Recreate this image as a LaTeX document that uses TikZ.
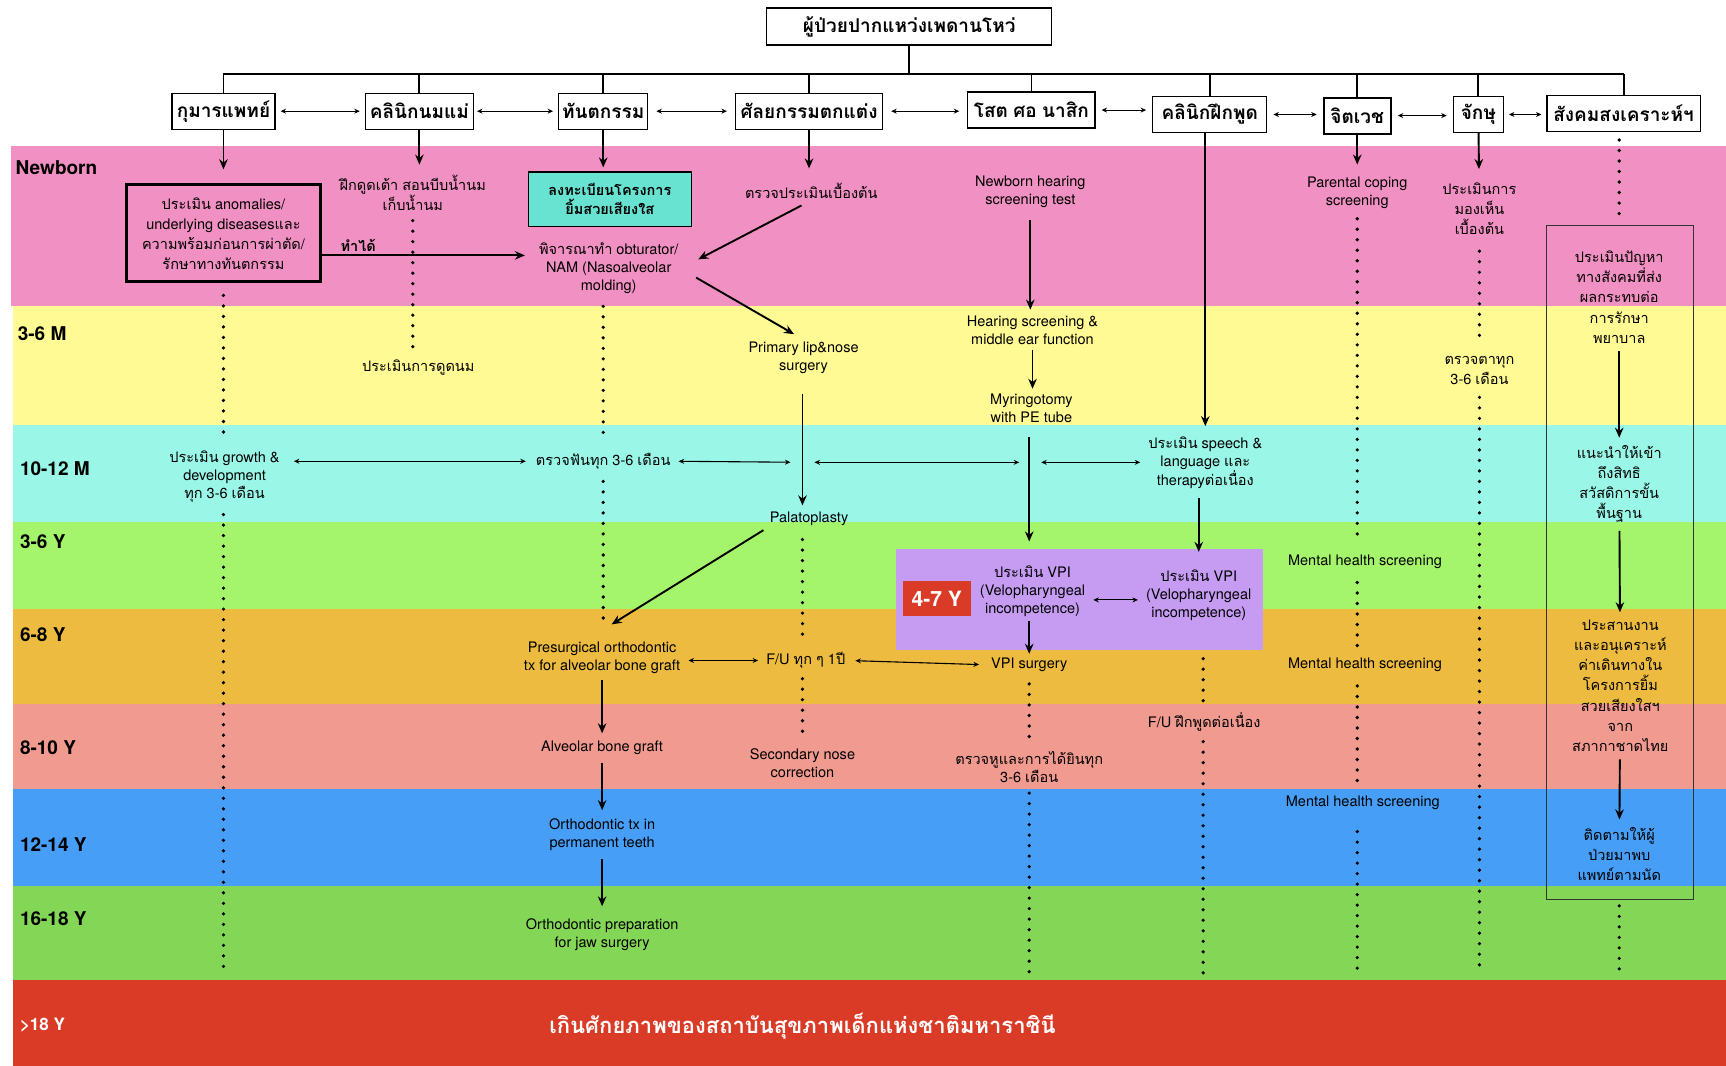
\documentclass[tikz,border=0pt]{standalone}
\usepackage{fontspec}
\setmainfont{TeX Gyre Heros}
\newfontfamily\thaifont[Script=Thai]{Loma}
\usetikzlibrary{arrows.meta}

% Thai letters in Loma, everything else in Heros
\XeTeXinterchartokenstate=1
\newXeTeXintercharclass\thaiclass
\newcount\thaichar
\thaichar="0E00
\loop
  \XeTeXcharclass\thaichar=\thaiclass
  \advance\thaichar by 1
\ifnum\thaichar<"0E80 \repeat
\XeTeXinterchartoks 0 \thaiclass = {\thaifont}
\XeTeXinterchartoks 4095 \thaiclass = {\thaifont}
\XeTeXinterchartoks \thaiclass 0 = {\rmfamily}
\XeTeXinterchartoks \thaiclass 4095 = {\rmfamily}

\definecolor{pinkband}{HTML}{F190C2}
\definecolor{yellowband}{HTML}{FFFA93}
\definecolor{cyanband}{HTML}{9AF7E8}
\definecolor{limeband}{HTML}{A4F56C}
\definecolor{orangeband}{HTML}{EEBB41}
\definecolor{salmonband}{HTML}{F19A8F}
\definecolor{blueband}{HTML}{479EF6}
\definecolor{greenband}{HTML}{84D657}
\definecolor{redband}{HTML}{DA3B26}
\definecolor{tealbox}{HTML}{68E2D1}
\definecolor{vpipurple}{HTML}{C69CF3}

\newcommand\txtsize{\fontsize{14.5}{18}\selectfont}
\newcommand\thsize{\fontsize{14.5}{20}\selectfont}
\newcommand\deptsize{\fontsize{19}{22}\selectfont\bfseries}
\newcommand\bandsize{\fontsize{19}{22}\selectfont\bfseries}

\tikzset{
    dept/.style={draw, line width=1.2pt, fill=white, font=\deptsize, minimum height=36pt, inner sep=2pt},
    txt/.style={align=center, font=\txtsize, inner sep=2pt},
    thtxt/.style={align=center, font=\thsize, inner sep=2pt},
    bandlbl/.style={anchor=west, font=\bandsize, inner sep=0pt},
    arr/.style={line width=1.9pt, -{Stealth[length=10pt,width=8.5pt]}},
    biarr/.style={line width=1.1pt, {Stealth[length=5.5pt,width=5pt]}-{Stealth[length=5.5pt,width=5pt]}},
    dots/.style={line width=3.6pt, line cap=round, dash pattern=on 0pt off 10.5pt},
    busline/.style={line width=1.8pt}
}

\begin{document}
\begin{tikzpicture}[x=1.1pt, y=-1.1pt]
    \useasboundingbox (0,0) rectangle (1568,968);

    % age bands
    \fill[pinkband] (10,133) rectangle (1568,278);
    \fill[yellowband] (12,278) rectangle (1568,386);
    \fill[cyanband] (12,386) rectangle (1568,474);
    \fill[limeband] (12,474) rectangle (1568,553);
    \fill[orangeband] (12,553) rectangle (1568,640);
    \fill[salmonband] (12,640) rectangle (1568,717);
    \fill[blueband] (12,717) rectangle (1568,805);
    \fill[greenband] (12,805) rectangle (1568,890);
    \fill[redband] (12,890) rectangle (1568,968);

    \node[bandlbl] (lnewborn) at (14,152) {Newborn};
    \node[bandlbl] (l36m) at (16,303) {3-6 M};
    \node[bandlbl] (l1012m) at (18,426) {10-12 M};
    \node[bandlbl] (l36y) at (18,492) {3-6 Y};
    \node[bandlbl] (l68y) at (18,577) {6-8 Y};
    \node[bandlbl] (l810y) at (18,679) {8-10 Y};
    \node[bandlbl] (l1214y) at (18,767) {12-14 Y};
    \node[bandlbl] (l1618y) at (18,835) {16-18 Y};
    \node[bandlbl, text=white, font=\fontsize{17}{20}\selectfont\bfseries] (l18y) at (18,931) {>18 Y};

    % patient and departments
    \node[dept, minimum width=285pt, minimum height=37pt] (patient) at (826,24) {ผู้ป่วยปากแหว่งเพดานโหว่};
    \coordinate (bus) at (826,67);

    \node[dept, minimum width=103pt] (kumarn) at (203,101) {กุมารแพทย์};
    \node[dept, minimum width=108pt] (nommae) at (381,101) {คลินิกนมแม่};
    \node[dept, minimum width=89pt] (dental) at (548,101) {ทันตกรรม};
    \node[dept, minimum width=147pt] (plastic) at (735,101) {ศัลยกรรมตกแต่ง};
    \node[dept, minimum width=127pt] (ent) at (937,100) {โสต ศอ นาสิก};
    \node[dept, minimum width=114pt] (speech) at (1099,104) {คลินิกฝึกพูด};
    \node[dept, minimum width=67pt, line width=2pt] (psych) at (1233,105) {จิตเวช};
    \node[dept, minimum width=50pt] (eye) at (1343,104) {จักษุ};
    \node[dept, minimum width=153pt] (social) at (1475,103) {สังคมสงเคราะห์ฯ};

    \draw[busline] (patient) -- (bus);
    \draw[busline] (kumarn.north |- bus) -- (social.north |- bus);
    \draw[busline] (kumarn.north) -- (kumarn.north |- bus);
    \draw[busline] (nommae.north) -- (nommae.north |- bus);
    \draw[busline] (dental.north) -- (dental.north |- bus);
    \draw[busline] (plastic.north) -- (plastic.north |- bus);
    \draw[busline] (ent.north) -- (ent.north |- bus);
    \draw[busline] (speech.north) -- (speech.north |- bus);
    \draw[busline] (psych.north) -- (psych.north |- bus);
    \draw[busline] (eye.north) -- (eye.north |- bus);
    \draw[busline] (social.north) -- (social.north |- bus);

    \draw[biarr, shorten <=5pt, shorten >=5pt] (kumarn.east) -- (kumarn.east -| nommae.west);
    \draw[biarr, shorten <=3pt, shorten >=5pt] (nommae.east) -- (nommae.east -| dental.west);
    \draw[biarr, shorten <=8pt, shorten >=8pt] (dental.east) -- (dental.east -| plastic.west);
    \draw[biarr, shorten <=8pt, shorten >=8pt] (plastic.east) -- (plastic.east -| ent.west);
    \draw[biarr, shorten <=6pt, shorten >=6pt] (ent.east) -- (ent.east -| speech.west);
    \draw[biarr, shorten <=6pt, shorten >=6pt] (speech.east) -- (speech.east -| psych.west);
    \draw[biarr, shorten <=6pt, shorten >=6pt] (psych.east) -- (psych.east -| eye.west);
    \draw[biarr, shorten <=5pt, shorten >=5pt] (eye.east) -- (eye.east -| social.west);

    % paediatrics
    \node[thtxt, draw, line width=3pt, minimum width=193pt, minimum height=97pt] (anom) at (203,212)
        {ประเมิน anomalies/\\underlying diseasesและ\\ความพร้อมก่อนการผ่าตัด/\\รักษาทางทันตกรรม};
    \node[txt] (growth) at (204,433) {ประเมิน growth \&\\development\\ทุก 3-6 เดือน};
    \coordinate (kumend) at (203,880);
    \draw[arr, shorten >=14pt] (kumarn) -- (anom);
    \draw[dots, shorten <=12pt, shorten >=8pt] (anom.south) -- (anom.south |- growth.north);
    \draw[dots, shorten <=10pt] (anom.south |- growth.south) -- (kumend);

    % breastfeeding clinic
    \node[txt] (suckle) at (375,175) {ฝึกดูดเต้า สอนบีบน้ำนม\\เก็บน้ำนม};
    \node[txt] (suckeval) at (380,334) {ประเมินการดูดนม};
    \draw[arr, shorten >=8pt] (nommae.south) -- (nommae.south |- suckle.north);
    \draw[dots, shorten <=8pt, shorten >=8pt] (suckle.south) -- (suckle.south |- suckeval.north);

    % dentistry
    \node[draw, line width=1.5pt, fill=tealbox, align=center, font=\fontsize{14.5}{19}\selectfont\bfseries,
        minimum width=163pt, minimum height=54pt] (register) at (554,181) {ลงทะเบียนโครงการ\\ยิ้มสวยเสียงใส};
    \node[txt] (nam) at (553,244) {พิจารณาทำ obturator/\\NAM (Nasoalveolar\\molding)};
    \node[txt] (dentcheck) at (548,419) {ตรวจฟันทุก 3-6 เดือน};
    \draw[arr, shorten >=4pt] (dental.south) -- (dental.south |- register.north);
    \draw[arr, shorten >=12pt] (anom.east |- 0,232) -- node[above, pos=0.17, font=\fontsize{14.5}{18}\selectfont\bfseries] (cando) {ทำได้} (nam.west |- 0,232);
    \draw[dots, shorten <=10pt, shorten >=10pt] (dentcheck.north |- nam.south) -- (dentcheck.north);
    \draw[biarr, shorten <=12pt, shorten >=8pt] (growth.east |- dentcheck) -- (dentcheck.west);

    % plastic surgery
    \node[txt] (exam) at (737,173) {ตรวจประเมินเบื้องต้น};
    \node[txt] (primary) at (730,325) {Primary lip\&nose\\surgery};
    \node[txt] (palato) at (735,471) {Palatoplasty};
    \coordinate (palline) at (729,420);
    \draw[arr, shorten >=12pt] (plastic.south) -- (plastic.south |- exam.north);
    \draw[arr, shorten <=11pt, shorten >=20pt] (exam.south) -- (nam.east);
    \draw[arr, shorten <=18pt, shorten >=11pt] (nam.east) -- (primary.north);
    \draw[arr, shorten <=18pt, shorten >=4pt] (palline |- primary.south) -- (palline |- palato.north);
    \draw[biarr, shorten <=6pt, shorten >=12pt] (dentcheck.east) -- (palline);

    % ENT
    \node[txt] (nbhear) at (936,174) {Newborn hearing\\screening test};
    \node[txt] (hearscr) at (938,300) {Hearing screening \&\\middle ear function};
    \node[txt] (myring) at (937,371) {Myringotomy\\with PE tube};
    \coordinate (entline) at (935,420);
    \draw[arr, shorten <=10pt, shorten >=4pt] (nbhear.south) -- (nbhear.south |- hearscr.north);
    \draw[arr, shorten <=3pt, shorten >=3pt] (hearscr.south) -- (hearscr.south |- myring.north);
    \draw[biarr, shorten <=12pt, shorten >=10pt] (palline) -- (entline);

    % speech clinic
    \node[txt] (speecheval) at (1095,420) {ประเมิน speech \&\\language และ\\therapyต่อเนื่อง};
    \draw[arr, shorten >=8pt] (speecheval.north |- speech.south) -- (speecheval.north);
    \draw[biarr, shorten <=12pt, shorten >=6pt] (entline) -- (speecheval.west);

    % VPI block
    \node[fill=vpipurple, minimum width=367pt, minimum height=101pt] (vpibox) at (981,545) {};
    \node[fill=redband, text=white, font=\fontsize{21}{24}\selectfont\bfseries,
        minimum width=68pt, minimum height=35pt] (age47) at (851,544) {4-7 Y};
    \node[txt] (vpil) at (938,537) {ประเมิน VPI\\(Velopharyngeal\\incompetence)};
    \node[txt] (vpir) at (1089,541) {ประเมิน VPI\\(Velopharyngeal\\incompetence)};
    \node[txt] (vpisurg) at (935,604) {VPI surgery};
    \draw[arr, shorten <=12pt, shorten >=22pt] (myring.south -| entline) -- (entline |- vpil.north);
    \draw[arr, shorten <=8pt, shorten >=16pt] (speecheval.south -| vpir) -- (vpir.north);
    \draw[biarr, shorten <=6pt, shorten >=6pt] (vpil.east |- 0,545) -- (vpir.west |- 0,545);
    \draw[arr, shorten <=2pt, shorten >=2pt] (vpil.south -| entline) -- (vpisurg.north -| entline);

    % alveolar chain
    \node[txt] (presurg) at (547,598) {Presurgical orthodontic\\tx for alveolar bone graft};
    \node[txt] (fuyear) at (732,600) {F/U ทุก ๆ 1ปี};
    \node[txt] (abg) at (547,679) {Alveolar bone graft};
    \node[txt] (orthoperm) at (547,758) {Orthodontic tx in\\permanent teeth};
    \node[txt] (orthojaw) at (547,849) {Orthodontic preparation\\for jaw surgery};
    \node[txt] (secnose) at (729,693) {Secondary nose\\correction};
    \draw[dots, shorten <=10pt, shorten >=18pt] (dentcheck.south) -- (dentcheck.south |- presurg.north);
    \draw[arr, shorten <=5pt, shorten >=30pt] (palato.south west) -- ([xshift=-16pt]presurg.north);
    \draw[biarr, shorten <=6pt, shorten >=6pt] (presurg.east |- fuyear) -- (fuyear.west);
    \draw[biarr, shorten <=8pt, shorten >=10pt] (fuyear.east) -- (vpisurg.west);
    \draw[arr, shorten <=4pt, shorten >=5pt] (presurg) -- (abg);
    \draw[arr, shorten <=6pt, shorten >=6pt] (abg) -- (orthoperm);
    \draw[arr, shorten <=6pt, shorten >=10pt] (orthoperm) -- (orthojaw);
    \draw[dots, shorten <=12pt, shorten >=8pt] (palline |- palato.south) -- (palline |- fuyear.north);
    \draw[dots, shorten <=8pt, shorten >=10pt] (palline |- fuyear.south) -- (palline |- secnose.north);

    % follow-up dots below VPI
    \node[txt] (earcheck) at (935,697) {ตรวจหูและการได้ยินทุก\\3-6 เดือน};
    \node[txt] (fuspeech) at (1094,656) {F/U ฝึกพูดต่อเนื่อง};
    \coordinate (entend) at (935,885);
    \coordinate (speechend) at (1093,885);
    \draw[dots, shorten <=10pt, shorten >=8pt] (entline |- vpisurg.south) -- (entline |- earcheck.north);
    \draw[dots, shorten <=8pt] (entline |- earcheck.south) -- (entend);
    \draw[dots, shorten <=8pt, shorten >=8pt] (vpibox.south -| speechend) -- (speechend |- fuspeech.north);
    \draw[dots, shorten <=8pt] (speechend |- fuspeech.south) -- (speechend);

    % psychiatry
    \node[txt] (coping) at (1233,175) {Parental coping\\screening};
    \node[txt] (mh1) at (1240,510) {Mental health screening};
    \node[txt] (mh2) at (1240,604) {Mental health screening};
    \node[txt] (mh3) at (1238,729) {Mental health screening};
    \coordinate (psyend) at (1233,885);
    \draw[arr, shorten >=10pt] (psych) -- (coping);
    \draw[dots, shorten <=8pt, shorten >=10pt] (coping.south) -- (coping.south |- mh1.north);
    \draw[dots, shorten <=12pt, shorten >=10pt] (coping.south |- mh1.south) -- (coping.south |- mh2.north);
    \draw[dots, shorten <=12pt, shorten >=12pt] (coping.south |- mh2.south) -- (coping.south |- mh3.north);
    \draw[dots, shorten <=20pt] (coping.south |- mh3.south) -- (psyend);

    % ophthalmology
    \node[thtxt] (eyeeval) at (1344,190) {ประเมินการ\\มองเห็น\\เบื้องต้น};
    \node[thtxt] (eyecheck) at (1344,337) {ตรวจตาทุก\\3-6 เดือน};
    \coordinate (eyeend) at (1344,880);
    \draw[arr, shorten >=12pt] (eye) -- (eyeeval);
    \draw[dots, shorten <=14pt, shorten >=10pt] (eyeeval) -- (eyecheck);
    \draw[dots, shorten <=10pt] (eyecheck.south) -- (eyeend);

    % social work
    \node[draw, line width=1.2pt, draw=black!80, minimum width=147pt, minimum height=673pt] (socbox) at (1472,511) {};
    \node[thtxt] (soc1) at (1471,270) {ประเมินปัญหา\\ทางสังคมที่ส่ง\\ผลกระทบต่อ\\การรักษา\\พยาบาล};
    \node[thtxt] (soc2) at (1471,440) {แนะนำให้เข้า\\ถึงสิทธิ\\สวัสดิการขั้น\\พื้นฐาน};
    \node[thtxt] (soc3) at (1472,623) {ประสานงาน\\และอนุเคราะห์\\ค่าเดินทางใน\\โครงการยิ้ม\\สวยเสียงใสฯ\\จาก\\สภากาชาดไทย};
    \node[thtxt] (soc4) at (1471,776) {ติดตามให้ผู้\\ป่วยมาพบ\\แพทย์ตามนัด};
    \coordinate (socend) at (1471,885);
    \draw[dots, shorten <=8pt, shorten >=6pt] (social.south -| socend) -- (socbox.north -| socend);
    \draw[arr, shorten <=6pt, shorten >=6pt] (soc1) -- (soc2);
    \draw[arr, shorten <=6pt, shorten >=6pt] (soc2) -- (soc3);
    \draw[arr, shorten <=6pt, shorten >=6pt] (soc3) -- (soc4);
    \draw[dots, shorten <=6pt] (socbox.south -| socend) -- (socend);

    % beyond the institute
    \node[text=white, font=\fontsize{22}{26}\selectfont\bfseries] (beyond) at (729,932) {เกินศักยภาพของสถาบันสุขภาพเด็กแห่งชาติมหาราชินี};
\end{tikzpicture}
\end{document}
